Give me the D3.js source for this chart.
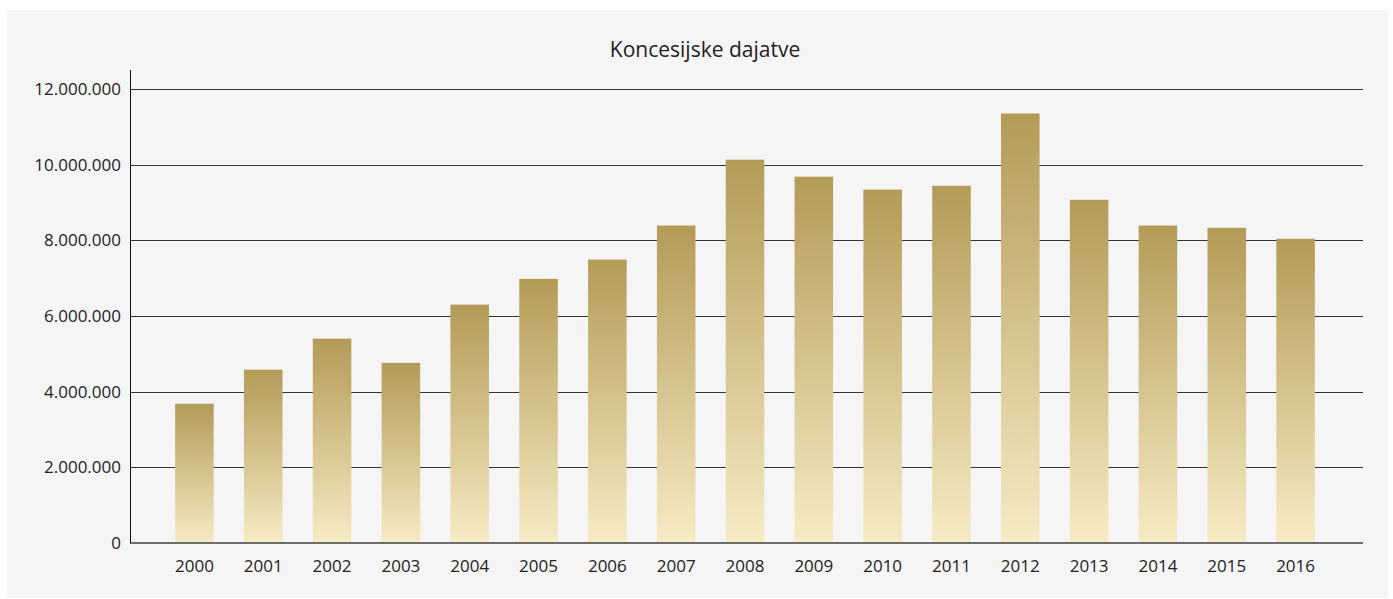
<!DOCTYPE html>
<html>
<head>
<meta charset="utf-8">
<script src="https://cdn.jsdelivr.net/npm/d3@7"></script>
<style>
  body { margin: 0; background: #fff; }
  text { font-family: "Open Sans", "Noto Sans", sans-serif; fill: #222; }
</style>
</head>
<body>
<svg id="chart" width="1393" height="599"></svg>
<script>
'use strict';

const years = ["2000", "2001", "2002", "2003", "2004", "2005", "2006", "2007", "2008",
               "2009", "2010", "2011", "2012", "2013", "2014", "2015", "2016"];
const values = [3680000, 4580000, 5400000, 4760000, 6300000, 6980000, 7490000, 8390000, 10130000,
                9680000, 9340000, 9440000, 11350000, 9070000, 8390000, 8330000, 8040000];
const yTicks = [0, 2000000, 4000000, 6000000, 8000000, 10000000, 12000000];
const title = "Koncesijske dajatve";

let svg = d3.select("#chart");

// panel
svg.append("rect")
    .attr("x", 7).attr("y", 10)
    .attr("width", 1381).attr("height", 588)
    .attr("fill", "#f5f5f5");

let plotLeft = 130, plotRight = 1363, plotTop = 70, plotBottom = 543;

let y = d3.scaleLinear().domain([0, 12500000]).range([plotBottom, plotTop]);
let x = d3.scaleBand().domain(years).range([160, 1330]).paddingInner(0.44).paddingOuter(0.22);

let fmt = function(v) { return d3.format(",")(v).replace(/,/g, "."); };

let defs = svg.append("defs");
let grad = defs.append("linearGradient")
    .attr("id", "gold")
    .attr("x1", 0).attr("y1", 0).attr("x2", 0).attr("y2", 1);
grad.append("stop").attr("offset", "0%").attr("stop-color", "#b39b57");
grad.append("stop").attr("offset", "100%").attr("stop-color", "#f7ebc4");

// gridlines
svg.append("g")
    .selectAll("line")
    .data(yTicks.filter(function(d) { return d > 0; }))
    .enter().append("line")
    .attr("x1", plotLeft).attr("x2", plotRight)
    .attr("y1", function(d) { return Math.round(y(d)) + 0.5; })
    .attr("y2", function(d) { return Math.round(y(d)) + 0.5; })
    .style("stroke", "#333")
    .style("stroke-width", "1px");

// bars
svg.append("g")
    .selectAll("rect")
    .data(years)
    .enter().append("rect")
    .attr("x", function(d) { return x(d); })
    .attr("width", x.bandwidth())
    .attr("y", function(d, i) { return y(values[i]); })
    .attr("height", function(d, i) { return plotBottom - y(values[i]); })
    .attr("fill", "url(#gold)");

// baseline
svg.append("line")
    .attr("x1", plotLeft).attr("x2", plotRight)
    .attr("y1", plotBottom).attr("y2", plotBottom)
    .style("stroke", "#6e6e6e")
    .style("stroke-width", "2px");

// y axis
let yAxis = d3.axisLeft(y).tickValues(yTicks).tickSize(0).tickPadding(9).tickFormat(fmt);
let gy = svg.append("g")
    .attr("transform", "translate(" + plotLeft + ",0)")
    .call(yAxis);
gy.select(".domain").remove();
gy.selectAll("text").style("font-size", "17px").attr("fill", "#222");
svg.append("line")
    .attr("x1", plotLeft + 0.5).attr("x2", plotLeft + 0.5)
    .attr("y1", plotTop).attr("y2", plotBottom)
    .style("stroke", "#111")
    .style("stroke-width", "1px");

// x axis
let xAxis = d3.axisBottom(x).tickSize(0).tickPadding(17);
let gx = svg.append("g")
    .attr("transform", "translate(0," + plotBottom + ")")
    .call(xAxis);
gx.select(".domain").remove();
gx.selectAll("text").style("font-size", "17px").attr("fill", "#222");

// title
svg.append("text")
    .attr("x", 705).attr("y", 57)
    .attr("text-anchor", "middle")
    .style("font-size", "21px")
    .text(title);
</script>
</body>
</html>
